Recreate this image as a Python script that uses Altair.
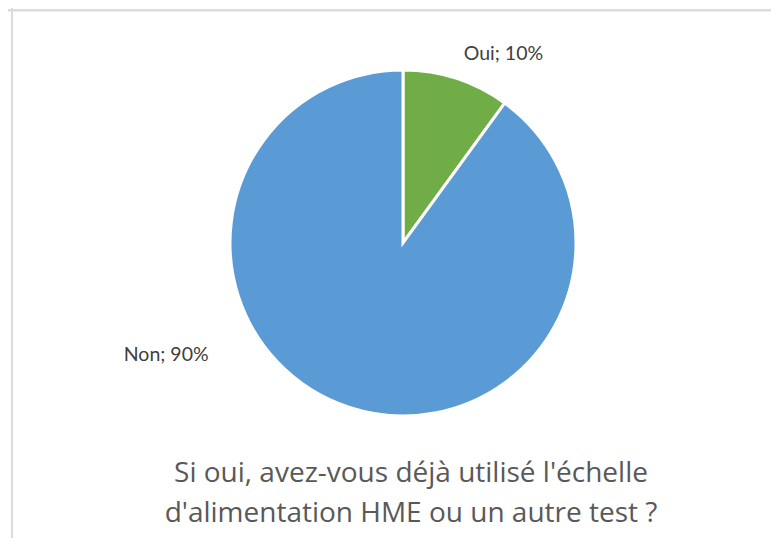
import altair as alt
import pandas as pd

categories = ["Oui", "Non"]
values = [10, 90]
labels = ["Oui; 10%", "Non; 90%"]
colors = ["#70AD47", "#5B9BD5"]
title_lines = ["Si oui, avez-vous déjà utilisé l'échelle", "d'alimentation HME ou un autre test ?"]

df = pd.DataFrame({"cat": categories, "value": values, "label": labels, "order": [0, 1]})

PL, PT, W, H = 27, 35, 736, 400

base = alt.Chart(df).encode(
    theta=alt.Theta("value:Q", stack=True),
    order=alt.Order("order:Q"),
)

pie = base.mark_arc(radius=173, stroke="white", strokeWidth=3).encode(
    color=alt.Color("cat:N", scale=alt.Scale(domain=categories, range=colors), legend=None)
)

def label_layer(cat, radius, dx, dy):
    return base.mark_text(radius=radius, dx=dx, dy=dy, fontSize=19.5, font="Lato", color="#404040").encode(
        text=alt.condition(alt.datum.cat == cat, "label:N", alt.value(""))
    )

oui = label_layer("Oui", 215, 34, 15)
non = label_layer("Non", 200, -175, -78)

frame_df = pd.DataFrame({"k": [0]})
left_border = alt.Chart(frame_df).mark_rule(color="#dcdcdc", strokeWidth=2).encode(
    x=alt.value(12 - 8 - PL), y=alt.value(-40), y2=alt.value(600)
)
top_border = alt.Chart(frame_df).mark_rule(color="#dcdcdc", strokeWidth=2.5).encode(
    y=alt.value(10.3 - 8 - PT), x=alt.value(-30), x2=alt.value(800)
)

title = alt.Chart(frame_df).mark_text(
    text=title_lines,
    font="Open Sans",
    fontSize=28,
    color="#595959",
    lineHeight=39.5,
    align="center",
    baseline="alphabetic",
).encode(x=alt.value(411 - 8 - PL), y=alt.value(482 - 8 - PT))

chart = alt.layer(left_border, top_border, pie, oui, non, title).properties(
    width=W,
    height=H,
    autosize=alt.AutoSizeParams(type="none"),
    padding={"left": PL, "top": PT, "right": 0, "bottom": 530 - PT - H},
).configure_view(stroke=None)

chart.save("out.html", embed_options={"renderer": "svg", "actions": False})
